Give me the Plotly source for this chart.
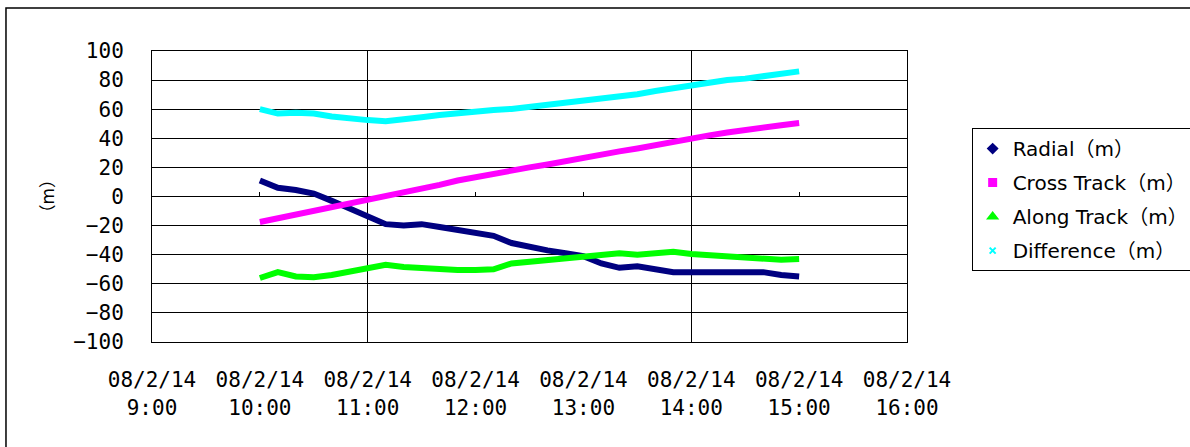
import pandas as pd
import plotly.graph_objects as go

# Sample times (10-minute steps, 2008-02-14 10:00 - 15:00)
times = pd.date_range("2008-02-14 10:00", "2008-02-14 15:00", freq="10min")

radial = [11, 6, 4.5, 2, -3, -8, -13, -19, -20, -19, -21, -23, -25, -27, -32, -35,
          -37, -39, -41, -46, -49, -48, -50, -52, -52, -52, -52, -52, -52, -54, -55]
cross_track = [-17.5, -15, -12.5, -10, -7.5, -5, -3, 0, 2.5, 5.5, 8, 11, 13.5, 15.5, 17.5, 20,
               22, 24.5, 26.5, 28.5, 31, 33, 35.5, 38, 40, 42, 44, 46, 47.5, 49, 50.5]
along_track = [-56, -52, -55, -55.5, -54, -52, -50, -47, -48.5, -49.5, -50.5, -50.5, -50.5, -50, -46, -45,
               -44, -42.5, -42, -40, -39, -40, -39.5, -38, -39.5, -40.5, -41, -41.5, -43, -43.5, -43]
difference = [60, 57, 57.5, 57, 55, 53.5, 52.5, 51.8, 52.8, 54.5, 56, 57.5, 58.8, 59.5, 60.2, 61.5,
              62.8, 64.5, 65.5, 67.3, 69, 70.3, 72.5, 74.5, 76.5, 78.3, 80, 81, 83, 84.5, 86]

series_names = ["Radial（m）", "Cross Track（m）", "Along Track（m）", "Difference（m）"]
series_values = [radial, cross_track, along_track, difference]
series_colors = ["#000080", "#FF00FF", "#00FF00", "#00FFFF"]
series_symbols = ["diamond", "square", "triangle-up", "x-thin-open"]
marker_sizes = [7, 7, 8, 6]

x_range = ["2008-02-14 09:00", "2008-02-14 16:00"]
y_ticks = list(range(-100, 101, 20))

TICK_FONT = dict(family="DejaVu Sans Mono", size=21, color="black")
LEGEND_FONT = dict(family="DejaVu Sans, Noto Sans CJK JP", size=20, color="black")

fig = go.Figure()

for name, vals, col in zip(series_names, series_values, series_colors):
    fig.add_trace(go.Scatter(
        x=times, y=vals, mode="lines", name=name,
        line=dict(color=col, width=6), showlegend=False,
    ))

# legend entries show the point symbols
for i, (name, col, sym, ms) in enumerate(zip(series_names, series_colors, series_symbols, marker_sizes)):
    fig.add_trace(go.Scatter(
        x=[None], y=[None], mode="markers", name=name, legendgroup=f"g{i}",
        marker=dict(color=col, symbol=sym, size=ms, line=dict(color=col, width=2)),
    ))

# hidden traces to activate helper x axes
fig.add_trace(go.Scatter(x=x_range, y=[None, None], xaxis="x2", showlegend=False, hoverinfo="skip"))
fig.add_trace(go.Scatter(x=x_range, y=[None, None], xaxis="x3", showlegend=False, hoverinfo="skip"))

fig.update_layout(
    width=1190, height=447,
    margin=dict(l=152, r=283, t=51, b=105, autoexpand=False),
    paper_bgcolor="white", plot_bgcolor="white",
    xaxis=dict(
        type="date", range=x_range,
        tick0="2008-02-14 09:00", dtick=3600000,
        tickformat="%y/%-m/%d<br>%-H:%M",
        showgrid=False, zeroline=False,
        showline=True, mirror=True, linecolor="black", linewidth=1,
        ticks="", ticklabelstandoff=19,
        tickfont=TICK_FONT,
    ),
    # hourly tick marks along the zero line
    xaxis2=dict(
        type="date", range=x_range, overlaying="x", anchor="free", position=0.5,
        tick0="2008-02-14 09:00", dtick=3600000,
        ticks="inside", ticklen=5, tickwidth=1, tickcolor="black",
        showticklabels=False, showgrid=False, showline=False, zeroline=False,
    ),
    # vertical grid lines every three hours
    xaxis3=dict(
        type="date", range=x_range, overlaying="x", anchor="y",
        tick0="2008-02-14 11:00", dtick=3 * 3600000,
        showgrid=True, gridcolor="black", gridwidth=1,
        showticklabels=False, ticks="", showline=False, zeroline=False,
    ),
    yaxis=dict(
        range=[-100, 100], tickvals=y_ticks,
        showgrid=True, gridcolor="black", gridwidth=1,
        zeroline=False,
        showline=True, mirror=True, linecolor="black", linewidth=1,
        ticks="", ticklabelstandoff=23,
        tickfont=TICK_FONT,
    ),
    legend=dict(
        x=1.381, y=0.735, xanchor="right", yanchor="top",
        bordercolor="black", borderwidth=1, bgcolor="white",
        font=LEGEND_FONT, itemwidth=30,
        tracegroupgap=5,
    ),
    showlegend=True,
    annotations=[dict(
        text="（m）", textangle=-90, xref="paper", yref="paper",
        x=-0.139, y=0.5, xanchor="center", yanchor="middle",
        showarrow=False, font=dict(family="DejaVu Sans, Noto Sans CJK JP", size=17, color="black"),
    )],
    shapes=[dict(
        type="rect", xref="paper", yref="paper",
        x0=-0.1934, x1=1.6, y0=-0.6, y1=1.148,
        line=dict(color="black", width=1.5), fillcolor="rgba(0,0,0,0)", layer="below",
    )],
)

fig.write_html("out.html")
